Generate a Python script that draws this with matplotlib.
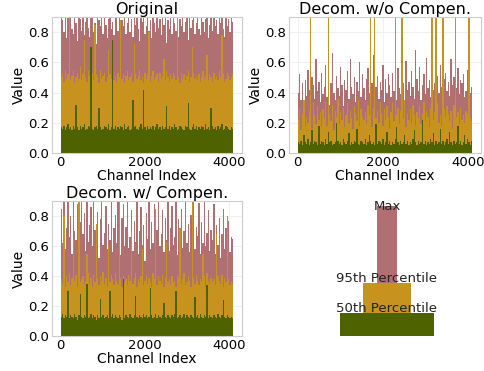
import numpy as np
import matplotlib
matplotlib.use("Agg")
import matplotlib.pyplot as plt

# ---------------- data (values in hundredths; each entry ~32 channels) -------------
n_channels = 4096
titles = ["Original", "Decom. w/o Compen.", "Decom. w/ Compen."]
legend_labels = ["Max", "95th Percentile", "50th Percentile"]

max_orig = [95,88,80,93,76,90,85,97,82,79,91,86,74,95,89,81,
            92,78,87,96,83,77,90,94,80,86,72,93,88,84,97,79,
            91,85,76,89,95,82,87,78,93,90,81,96,75,88,84,92,
            79,86,94,80,89,77,91,85,98,82,74,90,87,93,79,84,
            96,81,88,76,92,86,80,95,83,89,78,91,85,97,73,88,
            82,94,79,90,86,81,93,77,89,84,96,80,87,92,75,90,
            83,88,95,79,86,91,82,78,94,87,80,89,93,76,85,92,
            81,97,84,88,79,90,86,95,82,77,91,84,89,80,93,87]
p95_orig = [50,53,47,55,49,52,90,48,51,54,46,50,53,49,57,48,
            52,75,50,47,54,51,49,53,48,85,52,50,46,55,49,51,
            53,47,50,68,52,49,54,48,51,47,53,50,88,49,52,46,
            51,54,48,50,53,47,72,52,49,51,55,48,50,46,53,49,
            52,80,47,51,54,48,50,52,47,53,49,51,62,48,54,50,
            47,52,49,53,51,48,90,50,46,53,49,52,48,51,54,47,
            50,70,53,49,51,48,52,47,50,54,49,51,65,48,52,50,
            47,53,49,51,48,55,50,78,52,47,49,53,51,48,50,52]
p50_orig = [17,16,18,15,17,19,16,17,15,18,16,32,17,15,18,16,
            17,19,15,16,18,17,70,16,15,17,18,16,30,17,15,16,
            18,17,16,19,15,17,75,16,18,15,17,16,18,17,15,19,
            16,17,18,15,16,35,17,18,16,15,17,19,16,42,17,15,
            18,16,17,16,18,15,17,19,16,17,15,18,16,17,31,16,
            18,15,17,16,19,17,15,16,18,17,16,15,18,17,33,16,
            15,17,19,16,18,15,17,16,18,17,15,19,16,17,15,30,
            18,16,17,15,18,16,17,19,15,16,18,17,16,15,17,16]

max_wo = [40,52,35,46,30,48,38,55,42,92,50,45,36,62,41,47,
          34,53,39,44,58,37,92,32,46,66,40,35,51,43,38,57,
          45,31,48,42,54,36,62,44,39,50,34,47,41,60,37,52,
          43,35,49,56,40,92,46,65,92,44,51,36,47,42,58,34,
          49,40,52,45,37,53,41,92,35,56,43,39,92,46,33,61,
          42,47,38,54,44,36,68,49,41,57,35,45,52,39,63,43,
          48,37,92,42,46,92,51,40,58,44,92,49,53,41,47,38,
          62,45,50,92,43,56,39,48,46,52,37,41,55,92,40,44]
p95_wo = [22,30,15,26,35,18,24,20,28,90,16,33,25,19,31,22,
          27,17,29,23,34,18,90,26,21,32,15,28,24,36,19,27,
          22,30,17,25,33,20,28,23,16,31,26,21,35,18,29,24,
          22,27,19,32,25,90,17,30,90,23,28,20,34,26,18,29,
          22,31,24,16,27,33,21,90,25,30,19,28,90,23,35,17,
          26,22,29,20,32,25,18,27,23,31,19,26,34,21,28,24,
          17,30,90,22,27,90,33,20,25,18,90,29,23,31,26,21,
          28,16,32,90,24,27,19,30,22,25,20,28,26,90,23,21]
p50_wo = [7,6,8,5,12,7,6,9,5,7,15,6,8,7,5,18,
          6,8,7,5,9,6,14,7,8,5,6,7,20,8,6,7,
          5,9,7,6,8,13,5,7,6,8,7,16,6,5,8,7,
          6,9,5,7,12,8,6,7,5,19,6,8,7,6,9,5,
          7,14,6,8,5,7,6,9,17,7,5,8,6,7,12,6,
          8,5,7,6,9,15,7,5,8,6,7,22,6,8,5,7,
          6,9,7,13,5,8,6,7,16,6,8,5,7,9,6,14,
          7,5,8,6,7,18,6,8,5,7,12,6,9,7,5,8]

max_w = [85,62,95,58,72,90,66,80,55,93,70,64,88,59,76,95,
         68,82,57,91,63,74,86,60,95,71,65,83,52,78,92,61,
         69,87,58,75,64,94,56,72,81,62,90,67,54,79,88,60,
         73,95,59,66,84,57,77,63,92,55,70,86,61,74,50,82,
         65,90,58,76,62,88,53,71,95,60,68,84,56,79,64,93,
         57,72,87,61,66,95,54,78,63,85,59,70,91,62,75,56,
         81,64,95,58,73,67,89,55,76,62,92,60,69,84,57,71,
         64,88,55,74,61,79,52,68,85,58,72,63,77,56,66,65]
p95_w = [38,35,80,33,40,36,42,34,39,65,37,41,33,90,36,38,
         40,34,37,55,42,35,39,33,41,36,75,38,34,40,37,43,
         35,39,33,60,36,41,38,34,42,37,35,90,39,33,40,36,
         38,34,41,37,70,35,39,42,33,38,36,40,58,34,37,41,
         35,39,36,33,42,38,85,34,40,37,35,41,33,39,62,36,
         38,34,40,36,37,33,41,39,72,35,38,42,34,36,40,37,
         33,90,39,35,41,37,34,38,36,55,40,33,42,37,35,39,
         36,38,34,68,40,37,35,41,33,39,36,80,38,34,37,35]
p50_w = [13,15,12,14,13,30,12,14,13,12,15,13,11,14,28,13,
         12,14,13,35,12,13,15,12,14,13,11,14,12,25,13,14,
         12,13,14,12,30,13,15,12,14,13,12,14,13,11,38,12,
         14,13,12,15,13,12,14,27,13,12,14,13,12,15,13,14,
         12,13,32,14,12,13,15,12,14,13,12,14,22,13,12,14,
         13,12,14,13,15,30,12,13,14,12,13,15,12,14,13,12,
         14,13,12,26,13,14,12,15,13,12,14,13,34,12,14,13,
         12,14,13,12,15,13,12,14,24,13,12,14,13,12,13,12]

# legend-panel bar geometry (data units of the blank 4th axes)
legend_bottoms = [0.39, 0.17, 0.0]
legend_heights = [0.57, 0.22, 0.17]
legend_widths = [0.10, 0.245, 0.485]
legend_text_y = [0.933, 0.40, 0.178]

panels = [
    (max_orig, p95_orig, p50_orig),
    (max_wo, p95_wo, p50_wo),
    (max_w, p95_w, p50_w),
]

# ---------------- style -------------
c_max = "#b07072"
c_p95 = "#c8921f"
c_p50 = "#4f6200"
colors = [c_max, c_p95, c_p50]

plt.rcParams['font.family'] = ['DejaVu Sans']
fig = plt.figure(figsize=(4.85, 3.71), dpi=100)

rects = [
    (52/485, 1-153/371, 190/485, 136/371),
    (289/485, 1-153/371, 192/485, 136/371),
    (52/485, 1-336/371, 190/485, 135/371),
]

def draw_series(ax, vals, color):
    v = np.asarray(vals, dtype=float) / 100.0
    w = n_channels / len(v)
    x = np.arange(len(v)) * w
    ax.bar(x, v, width=w, align='edge', color=color, linewidth=0)

for i, (title, series) in enumerate(zip(titles, panels)):
    ax = fig.add_axes(rects[i])
    for vals, col in zip(series, colors):
        draw_series(ax, vals, col)
    ax.set_xlim(-205, 4300)
    ax.set_ylim(0, 0.9)
    ax.set_yticks([0.0, 0.2, 0.4, 0.6, 0.8])
    ax.set_xticks([0, 2000, 4000])
    ax.set_title(title, fontsize=11.5, pad=1)
    ax.set_xlabel("Channel Index", fontsize=10, labelpad=0)
    ax.set_ylabel("Value", fontsize=10, labelpad=2)
    ax.tick_params(labelsize=9.5, length=0, pad=2)
    ax.grid(True, color="#f0f0f0", linewidth=0.8)
    ax.set_axisbelow(True)
    for s in ax.spines.values():
        s.set_color("#cccccc")
        s.set_linewidth(0.8)

ax4 = fig.add_axes((291/485, 1-336/371, 192/485, 135/371))
ax4.set_xlim(0, 1)
ax4.set_ylim(0, 1)
ax4.axis('off')
for lab, b, h, w, ty, col in zip(legend_labels, legend_bottoms, legend_heights,
                                  legend_widths, legend_text_y, colors):
    ax4.bar(0.5, h, width=w, bottom=b, color=col, linewidth=0)
    ax4.text(0.5, ty, lab, ha='center', va='baseline', fontsize=9.5, color="#222222")

fig.savefig("out.png", dpi=100)
